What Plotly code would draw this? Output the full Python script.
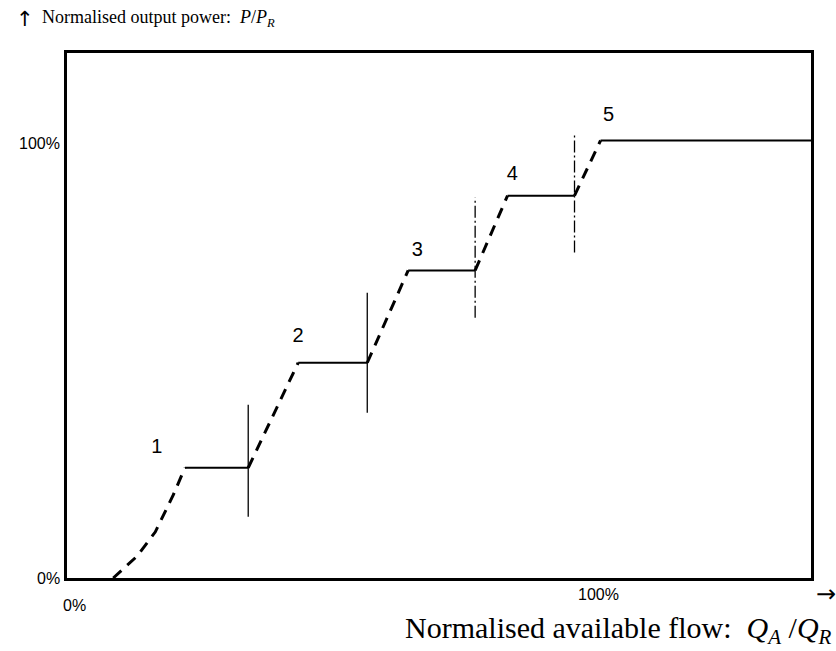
import plotly.graph_objects as go

# ---------------- data (percent of rated values) ----------------
step_labels = ["1", "2", "3", "4", "5"]
step_power = [25.2, 49.2, 70.3, 87.4, 100.0]          # P/P_R level of each step
step_start_flow = [22.2, 43.5, 64.2, 82.9, 100.4]     # Q_A/Q_R where each level starts
step_end_flow = [34.1, 56.5, 76.8, 95.5, 140.0]       # Q_A/Q_R where each level ends

start_flow = [8.7, 13.2, 16.6, 20.0]                  # initial curved ramp
start_power = [0.0, 5.0, 10.5, 19.0]

switch_flow = [34.1, 56.5, 76.8, 95.5]                # switching marks
switch_low = [14.0, 37.8, 59.5, 74.4]
switch_high = [39.6, 65.2, 87.0, 101.6]
switch_style = ["solid", "solid", "dashdot", "dashdot"]

label_flow = [16.9, 43.5, 65.9, 83.8, 101.9]
label_power = [29.8, 55.2, 74.8, 92.2, 105.7]

x_tick_vals = [0, 100]
x_tick_text = ["0%", "100%"]
y_tick_vals = [0, 100]
y_tick_text = ["0%", "100%"]

x_range = [0, 140]
y_range = [0, 120]

# ---------------- figure ----------------
W, H = 836, 651
L, R, T, B = 67, 25, 53, 73
pw, ph = W - L - R, H - T - B

fig = go.Figure()

# ramps (dashed)
rx, ry = [], []
rx += start_flow + [step_start_flow[0], None]
ry += start_power + [step_power[0], None]
for i in range(len(step_power) - 1):
    rx += [step_end_flow[i], step_start_flow[i + 1], None]
    ry += [step_power[i], step_power[i + 1], None]
fig.add_trace(go.Scatter(x=rx, y=ry, mode="lines",
                         line=dict(color="black", width=3, dash="11px,8px"),
                         hoverinfo="skip", showlegend=False))

# flat levels
fx, fy = [], []
for s, e, p in zip(step_start_flow, step_end_flow, step_power):
    fx += [s, e, None]
    fy += [p, p, None]
fig.add_trace(go.Scatter(x=fx, y=fy, mode="lines",
                         line=dict(color="black", width=2),
                         hoverinfo="skip", showlegend=False))

# switching marks
for xv, lo, hi, st in zip(switch_flow, switch_low, switch_high, switch_style):
    fig.add_trace(go.Scatter(x=[xv, xv], y=[lo, hi], mode="lines",
                             line=dict(color="black", width=1.3,
                                       dash=st if st == "solid" else "12px,3px,2px,3px"),
                             hoverinfo="skip", showlegend=False))

# step numbers
fig.add_trace(go.Scatter(x=label_flow, y=label_power, mode="text", text=step_labels,
                         textfont=dict(family="Liberation Sans", size=20, color="black"),
                         hoverinfo="skip", showlegend=False))

ax_common = dict(showgrid=False, zeroline=False, showline=True, mirror=True,
                 linecolor="black", linewidth=3, ticks="", showticklabels=False,
                 fixedrange=True)
fig.update_xaxes(range=x_range, **ax_common)
fig.update_yaxes(range=y_range, **ax_common)


def px_to_paper(px, py):
    return (px - L) / pw, (H - B - py) / ph


annotations = []
tick_font = dict(family="Liberation Sans", size=16, color="black")
# y tick labels (right-aligned to the left of the frame)
for v, t in zip(y_tick_vals, y_tick_text):
    annotations.append(dict(x=0, xref="paper", y=v, yref="y", text=t, showarrow=False,
                            xanchor="right", yanchor="middle", xshift=-5,
                            yshift=-3 if v == 100 else 0, font=tick_font))
# x tick labels
x_tick_yshift = {0: -27, 100: -16}
x_tick_xshift = {0: 7, 100: 0}
for v, t in zip(x_tick_vals, x_tick_text):
    annotations.append(dict(x=v, xref="x", y=0, yref="paper", text=t, showarrow=False,
                            xanchor="center", yanchor="middle",
                            xshift=x_tick_xshift[v], yshift=x_tick_yshift[v], font=tick_font))

serif = dict(family="Liberation Serif", size=18, color="black")
serif_big = dict(family="Liberation Serif", size=30, color="black")
ax_, ay_ = px_to_paper(14, 19)
annotations.append(dict(x=ax_, y=ay_, xref="paper", yref="paper", xanchor="left", yanchor="middle",
                        text="↑", showarrow=False,
                        font=dict(family="DejaVu Sans", size=21, color="black")))
ax2, ay2 = px_to_paper(40, 18)
annotations.append(dict(x=ax2, y=ay2, xref="paper", yref="paper", xanchor="left", yanchor="middle",
                        text="Normalised output power:  <i>P</i>/<i>P</i><sub><i>R</i></sub>",
                        showarrow=False, font=serif))
bx_, by_ = px_to_paper(834, 630)
annotations.append(dict(x=bx_, y=by_, xref="paper", yref="paper", xanchor="right", yanchor="middle",
                        text="Normalised available flow:  <i>Q</i><sub><i>A</i></sub> /<i>Q</i><sub><i>R</i></sub>",
                        showarrow=False, font=serif_big))
cx_, cy_ = px_to_paper(826, 594)
annotations.append(dict(x=cx_, y=cy_, xref="paper", yref="paper", xanchor="center", yanchor="middle",
                        text="→", showarrow=False,
                        font=dict(family="DejaVu Sans", size=24, color="black")))

fig.update_layout(width=W, height=H, margin=dict(l=L, r=R, t=T, b=B),
                  paper_bgcolor="white", plot_bgcolor="white",
                  annotations=annotations, showlegend=False)

fig.write_html("out.html", config={"displayModeBar": False, "staticPlot": True},
               post_script="document.body.style.margin='0';document.body.style.overflow='hidden';")
